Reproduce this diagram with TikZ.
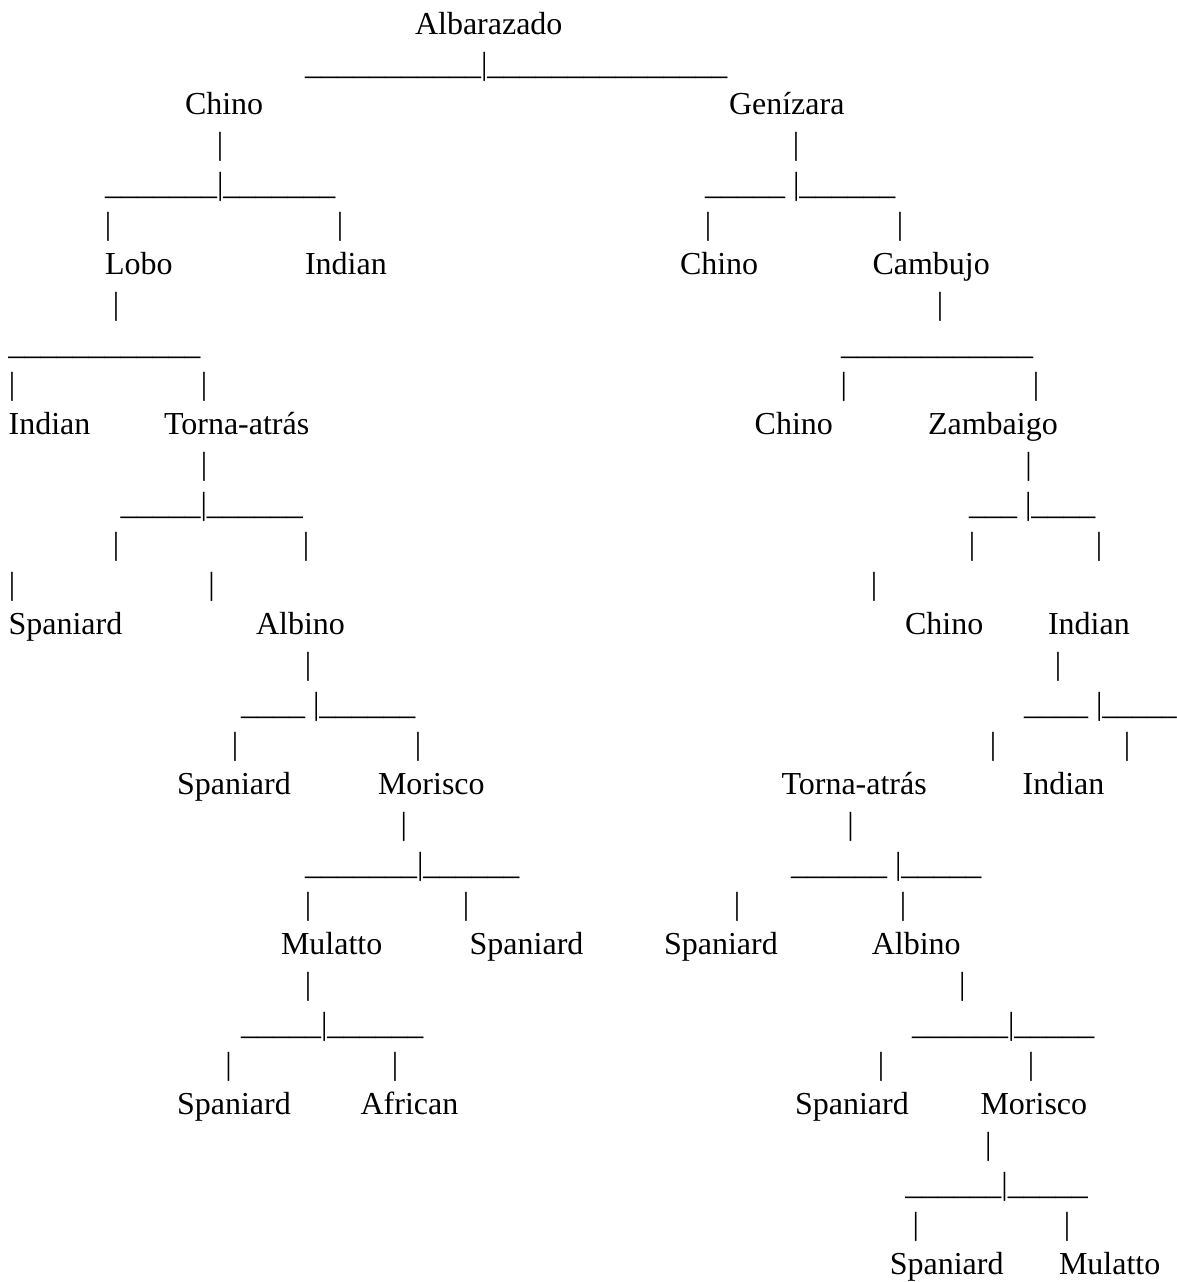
\documentclass[tikz,border=0pt]{standalone}
\usepackage{fontspec}
\setmainfont{Liberation Serif}
\ExplSyntaxOn
\NewDocumentCommand\usc{m}{\prg_replicate:nn{#1}{\_}}
\ExplSyntaxOff
\tikzset{
  lbl/.style={anchor=base west, inner sep=0pt, outer sep=0pt, font=\fontsize{32}{40}\selectfont},
  bar/.style={anchor=base, inner sep=0pt, outer sep=0pt, font=\fontsize{32}{40}\selectfont},
}
\begin{document}
\begin{tikzpicture}[x=1pt,y=-1pt]
\fill[white] (0,0) rectangle (1177,1282);
\useasboundingbox (0,0) rectangle (1177,1282);
% line 1
\node[lbl] (w1a) at (415,34.5) {Albarazado};
% line 2
\node[lbl] (u2a) at (305,74.5) {\usc{11}|\usc{15}};
% line 3
\node[lbl] (w3a) at (185,114.5) {Chino};
\node[lbl] (w3b) at (729,114.5) {Genízara};
% line 4
\node[bar] (p4a) at (220,154.5) {|};
\node[bar] (p4b) at (796,154.5) {|};
% line 5
\node[lbl] (u5a) at (105,194.5) {\usc{7}|\usc{7}};
\node[lbl] (u5b) at (705,194.5) {\usc{5} |\usc{6}};
% line 6
\node[bar] (p6a) at (108,234.5) {|};
\node[bar] (p6b) at (340,234.5) {|};
\node[bar] (p6c) at (708,234.5) {|};
\node[bar] (p6d) at (900,234.5) {|};
% line 7
\node[lbl] (w7a) at (105,274.5) {Lobo};
\node[lbl] (w7b) at (305,274.5) {Indian};
\node[lbl] (w7c) at (680,274.5) {Chino};
\node[lbl] (w7d) at (872.5,274.5) {Cambujo};
% line 8
\node[bar] (p8a) at (116,314.5) {|};
\node[bar] (p8b) at (940,314.5) {|};
% line 9
\node[lbl] (u9a) at (8.4,354.5) {\usc{12}};
\node[lbl] (u9b) at (841,354.5) {\usc{12}};
% line 10
\node[bar] (p10a) at (12.2,394.5) {|};
\node[bar] (p10b) at (204,394.5) {|};
\node[bar] (p10c) at (843.7,394.5) {|};
\node[bar] (p10d) at (1036,394.5) {|};
% line 11
\node[lbl] (w11a) at (8.6,434.5) {Indian};
\node[lbl] (w11b) at (164,434.5) {Torna-atrás};
\node[lbl] (w11c) at (754.7,434.5) {Chino};
\node[lbl] (w11d) at (928,434.5) {Zambaigo};
% line 12
\node[bar] (p12a) at (204,474.5) {|};
\node[bar] (p12b) at (1028.6,474.5) {|};
% line 13
\node[lbl] (u13a) at (120.5,514.5) {\usc{5}|\usc{6}};
\node[lbl] (u13b) at (969,514.5) {\usc{3} |\usc{4}};
% line 14
\node[bar] (p14a) at (116,554.5) {|};
\node[bar] (p14b) at (306,554.5) {|};
\node[bar] (p14c) at (972,554.5) {|};
\node[bar] (p14d) at (1099,554.5) {|};
% line 15
\node[bar] (p15a) at (12.2,594.5) {|};
\node[bar] (p15b) at (211.6,594.5) {|};
\node[bar] (p15c) at (874,594.5) {|};
% line 16
\node[lbl] (w16a) at (8.6,634.5) {Spaniard};
\node[lbl] (w16b) at (256,634.5) {Albino};
\node[lbl] (w16c) at (905,634.5) {Chino};
\node[lbl] (w16d) at (1048,634.5) {Indian};
% line 17
\node[bar] (p17a) at (308,674.5) {|};
\node[bar] (p17b) at (1058,674.5) {|};
% line 18
\node[lbl] (u18a) at (241,714.5) {\usc{4} |\usc{6}};
\node[lbl] (u18b) at (1024,714.5) {\usc{4} |\scalebox{0.93}[1]{\usc{5}}};
% line 19
\node[bar] (p19a) at (235,754.5) {|};
\node[bar] (p19b) at (418,754.5) {|};
\node[bar] (p19c) at (993,754.5) {|};
\node[bar] (p19d) at (1127,754.5) {|};
% line 20
\node[lbl] (w20a) at (177,794.5) {Spaniard};
\node[lbl] (w20b) at (378,794.5) {Morisco};
\node[lbl] (w20c) at (781.5,794.5) {Torna-atrás};
\node[lbl] (w20d) at (1022.6,794.5) {Indian};
% line 21
\node[bar] (p21a) at (403.7,834.5) {|};
\node[bar] (p21b) at (850.6,834.5) {|};
% line 22
\node[lbl] (u22a) at (305,874.5) {\usc{7}|\usc{6}};
\node[lbl] (u22b) at (791,874.5) {\usc{6} |\usc{5}};
% line 23
\node[bar] (p23a) at (308,914.5) {|};
\node[bar] (p23b) at (466,914.5) {|};
\node[bar] (p23c) at (737,914.5) {|};
\node[bar] (p23d) at (903,914.5) {|};
% line 24
\node[lbl] (w24a) at (281,954.5) {Mulatto};
\node[lbl] (w24b) at (469.7,954.5) {Spaniard};
\node[lbl] (w24c) at (664,954.5) {Spaniard};
\node[lbl] (w24d) at (871.8,954.5) {Albino};
% line 25
\node[bar] (p25a) at (308,994.5) {|};
\node[bar] (p25b) at (962.4,994.5) {|};
% line 26
\node[lbl] (u26a) at (241,1034.5) {\usc{5}|\usc{6}};
\node[lbl] (u26b) at (912,1034.5) {\usc{6}|\usc{5}};
% line 27
\node[bar] (p27a) at (228.5,1074.5) {|};
\node[bar] (p27b) at (395,1074.5) {|};
\node[bar] (p27c) at (881,1074.5) {|};
\node[bar] (p27d) at (1031,1074.5) {|};
% line 28
\node[lbl] (w28a) at (177,1114.5) {Spaniard};
\node[lbl] (w28b) at (360.6,1114.5) {African};
\node[lbl] (w28c) at (795,1114.5) {Spaniard};
\node[lbl] (w28d) at (980.5,1114.5) {Morisco};
% line 29
\node[bar] (p29a) at (988.4,1154.5) {|};
% line 30
\node[lbl] (u30a) at (905.4,1194.5) {\usc{6}|\usc{5}};
% line 31
\node[bar] (p31a) at (915.7,1234.5) {|};
\node[bar] (p31b) at (1067,1234.5) {|};
% line 32
\node[lbl] (w32a) at (889.8,1274.5) {Spaniard};
\node[lbl] (w32b) at (1059,1274.5) {Mulatto};
\end{tikzpicture}
\end{document}
